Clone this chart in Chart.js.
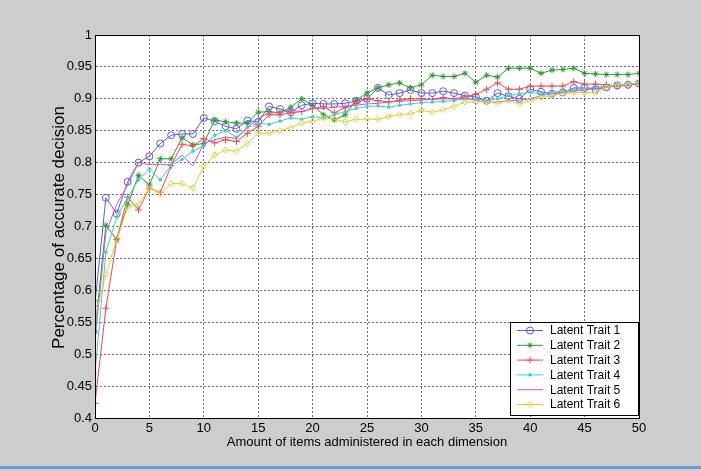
<!DOCTYPE html>
<html>
<head>
<meta charset="utf-8">
<script src="https://cdn.jsdelivr.net/npm/chart.js@4"></script>
<style>
  body { margin: 0; background: #cccccc; }
  canvas { display: block; }
</style>
</head>
<body>
<canvas id="decisionChart" width="701" height="471"></canvas>
<script>
const ctx = document.getElementById('decisionChart').getContext('2d');

// items administered per dimension
const items = [
    0, 1, 2, 3, 4, 5, 6, 7, 8, 9, 10, 11, 12, 13, 14, 15, 16, 17, 18, 19, 20,
    21, 22, 23, 24, 25, 26, 27, 28, 29, 30, 31, 32, 33, 34, 35, 36, 37, 38, 39, 40,
    41, 42, 43, 44, 45, 46, 47, 48, 49, 50
]

const trait1 = [0.58, 0.745, 0.72, 0.77, 0.80, 0.81, 0.83, 0.843, 0.845, 0.845, 0.87, 0.865, 0.857, 0.853, 0.866, 0.864, 0.888, 0.884, 0.879, 0.89, 0.893, 0.892, 0.892, 0.893, 0.897, 0.90, 0.917, 0.906, 0.909, 0.914, 0.909, 0.909, 0.912, 0.909, 0.905, 0.903, 0.897, 0.909, 0.904, 0.90, 0.915, 0.911, 0.908, 0.91, 0.917, 0.917, 0.915, 0.918, 0.921, 0.922, 0.924]
const trait2 = [0.535, 0.702, 0.679, 0.734, 0.78, 0.765, 0.806, 0.806, 0.839, 0.828, 0.83, 0.867, 0.864, 0.862, 0.862, 0.879, 0.88, 0.878, 0.887, 0.90, 0.89, 0.875, 0.867, 0.875, 0.898, 0.909, 0.917, 0.922, 0.925, 0.917, 0.922, 0.937, 0.935, 0.935, 0.94, 0.926, 0.937, 0.934, 0.948, 0.948, 0.948, 0.94, 0.945, 0.946, 0.948, 0.94, 0.939, 0.938, 0.938, 0.938, 0.94]
const trait3 = [0.423, 0.572, 0.68, 0.746, 0.726, 0.76, 0.753, 0.795, 0.829, 0.826, 0.838, 0.831, 0.836, 0.833, 0.846, 0.857, 0.875, 0.875, 0.878, 0.88, 0.885, 0.888, 0.878, 0.886, 0.893, 0.90, 0.897, 0.895, 0.898, 0.90, 0.90, 0.899, 0.902, 0.90, 0.903, 0.907, 0.915, 0.925, 0.915, 0.915, 0.92, 0.92, 0.92, 0.92, 0.927, 0.923, 0.923, 0.922, 0.92, 0.921, 0.924]
const trait4 = [0.47, 0.66, 0.715, 0.745, 0.773, 0.79, 0.773, 0.796, 0.805, 0.818, 0.826, 0.843, 0.85, 0.84, 0.855, 0.862, 0.86, 0.865, 0.87, 0.868, 0.872, 0.87, 0.875, 0.88, 0.885, 0.888, 0.889, 0.887, 0.89, 0.892, 0.894, 0.895, 0.896, 0.897, 0.90, 0.90, 0.897, 0.90, 0.905, 0.908, 0.91, 0.908, 0.91, 0.912, 0.914, 0.916, 0.918, 0.92, 0.922, 0.923, 0.925]
const trait5 = [0.522, 0.69, 0.735, 0.765, 0.80, 0.797, 0.797, 0.797, 0.812, 0.795, 0.83, 0.836, 0.84, 0.838, 0.855, 0.87, 0.878, 0.878, 0.882, 0.88, 0.885, 0.885, 0.887, 0.888, 0.89, 0.892, 0.893, 0.895, 0.896, 0.897, 0.898, 0.899, 0.90, 0.90, 0.90, 0.898, 0.895, 0.895, 0.897, 0.898, 0.90, 0.905, 0.908, 0.91, 0.912, 0.914, 0.916, 0.918, 0.92, 0.922, 0.924]
const trait6 = [0.558, 0.625, 0.68, 0.73, 0.735, 0.76, 0.752, 0.767, 0.767, 0.76, 0.794, 0.812, 0.82, 0.818, 0.83, 0.846, 0.846, 0.85, 0.855, 0.862, 0.865, 0.87, 0.868, 0.864, 0.868, 0.868, 0.868, 0.872, 0.875, 0.877, 0.882, 0.879, 0.883, 0.888, 0.895, 0.895, 0.895, 0.893, 0.897, 0.892, 0.897, 0.902, 0.905, 0.908, 0.91, 0.91, 0.91, 0.918, 0.922, 0.922, 0.925]

const traitNames = ['Latent Trait 1', 'Latent Trait 2', 'Latent Trait 3', 'Latent Trait 4', 'Latent Trait 5', 'Latent Trait 6']

const xTicks = [0, 5, 10, 15, 20, 25, 30, 35, 40, 45, 50]
const xTickLabels = ['0', '5', '10', '15', '20', '25', '30', '35', '40', '45', '50']
const yTicks = [0.4, 0.45, 0.5, 0.55, 0.6, 0.65, 0.7, 0.75, 0.8, 0.85, 0.9, 0.95, 1]
const yTickLabels = ['0.4', '0.45', '0.5', '0.55', '0.6', '0.65', '0.7', '0.75', '0.8', '0.85', '0.9', '0.95', '1']

const yTitle = 'Percentage of accurate decision'

const font = "'Liberation Sans', Arial, sans-serif"

// matlab-ish line styles: o, *, +, ., none, diamond
const styles = [
    { color: '#5a5af0', point: 'circle', radius: 3.5 },
    { color: '#2f9a2f', point: 'star', radius: 3 },
    { color: '#f04a4a', point: 'cross', radius: 3.5 },
    { color: '#3fcfcf', point: 'circle', radius: 1.3 },
    { color: '#cc5acc', point: false, radius: 0 },
    { color: '#d4d43c', point: 'rectRot', radius: 3 },
]

const series = [trait1, trait2, trait3, trait4, trait5, trait6]

const datasets = series.map((vals, i) => ({
    label: traitNames[i],
    data: vals.map((v, j) => ({ x: items[j], y: v })),
    borderColor: styles[i].color,
    borderWidth: 1,
    pointStyle: styles[i].point,
    pointRadius: styles[i].radius,
    pointBorderColor: styles[i].color,
    pointBackgroundColor: i === 3 ? styles[i].color : 'rgba(0,0,0,0)',
    pointBorderWidth: 1,
    tension: 0,
    order: series.length - i,
}))

// grey figure background, white axes, blue rule under the figure
const backdrop = {
    id: 'backdrop',
    beforeDraw(chart) {
        const c = chart.ctx
        const a = chart.chartArea
        c.save()
        c.fillStyle = '#cdcdcd'
        c.fillRect(0, 0, chart.width, chart.height)
        c.fillStyle = '#ffffff'
        c.fillRect(a.left, a.top, a.right - a.left, a.bottom - a.top)
        c.fillStyle = '#6c9bd6'
        c.fillRect(0, 466, chart.width, 3)
        c.restore()
    },
}

// axes box, y label and legend drawn on top of the lines
const boxLegend = {
    id: 'boxLegend',
    afterDraw(chart) {
        const c = chart.ctx
        const a = chart.chartArea
        c.save()
        c.strokeStyle = '#000'
        c.lineWidth = 1
        c.strokeRect(Math.round(a.left) + 0.5, Math.round(a.top) + 0.5, Math.round(a.right - a.left), Math.round(a.bottom - a.top))

        // y axis label, baseline facing the tick labels
        c.save()
        c.translate(64, (a.top + a.bottom) / 2 + 1)
        c.rotate(-Math.PI / 2)
        c.font = '17px ' + font
        c.fillStyle = '#000'
        c.textAlign = 'center'
        c.textBaseline = 'alphabetic'
        c.fillText(yTitle, 0, 0)
        c.restore()

        const bx = 510, by = 322, bw = 128, bh = 93
        c.fillStyle = '#ffffff'
        c.fillRect(bx, by, bw, bh)
        c.strokeRect(bx + 0.5, by + 0.5, bw, bh)

        c.font = '12px ' + font
        c.textBaseline = 'middle'
        c.textAlign = 'left'
        chart.data.datasets.forEach((ds, i) => {
            const y = by + 8.5 + i * 14.8
            c.strokeStyle = ds.borderColor
            c.lineWidth = 1
            c.beginPath()
            c.moveTo(bx + 7, y)
            c.lineTo(bx + 33, y)
            c.stroke()
            if (ds.pointStyle) {
                c.fillStyle = ds.pointBackgroundColor
                c.strokeStyle = ds.borderColor
                Chart.helpers.drawPoint(c, {
                    pointStyle: ds.pointStyle,
                    radius: ds.pointRadius,
                    borderWidth: 1,
                }, bx + 20, y)
            }
            c.fillStyle = '#000'
            c.fillText(ds.label, bx + 40, y + 0.5)
        })
        c.restore()
    },
}

const config = {
    type: 'line',
    data: { datasets },
    options: {
        responsive: false,
        animation: false,
        layout: { padding: { top: 35, right: 62, left: 0, bottom: 0 } },
        plugins: {
            legend: { display: false },
            tooltip: { enabled: false },
        },
        scales: {
            x: {
                type: 'linear',
                min: 0,
                max: 50,
                afterFit(s) { s.height = 53 },
                afterBuildTicks(s) { s.ticks = xTicks.map(v => ({ value: v })) },
                ticks: {
                    callback: (v, i) => xTickLabels[i],
                    color: '#000',
                    font: { family: font, size: 13 },
                    padding: 3,
                    maxRotation: 0,
                },
                grid: { color: '#707070', lineWidth: 1, drawTicks: false },
                border: { color: '#000', dash: [2, 2] },
                title: {
                    display: true,
                    text: 'Amount of items administered in each dimension',
                    color: '#000',
                    font: { family: font, size: 13 },
                    padding: { top: 0, bottom: 21 },
                },
            },
            y: {
                type: 'linear',
                min: 0.4,
                max: 1,
                afterFit(s) { s.width = 95 },
                afterBuildTicks(s) { s.ticks = yTicks.map(v => ({ value: v })) },
                ticks: {
                    callback: (v, i) => yTickLabels[i],
                    color: '#000',
                    font: { family: font, size: 13 },
                    padding: 3,
                },
                grid: { color: '#707070', lineWidth: 1, drawTicks: false },
                border: { color: '#000', dash: [2, 2] },
                title: { display: false },
            },
        },
    },
    plugins: [backdrop, boxLegend],
}

const myChart = new Chart(ctx, config)
</script>
</body>
</html>
